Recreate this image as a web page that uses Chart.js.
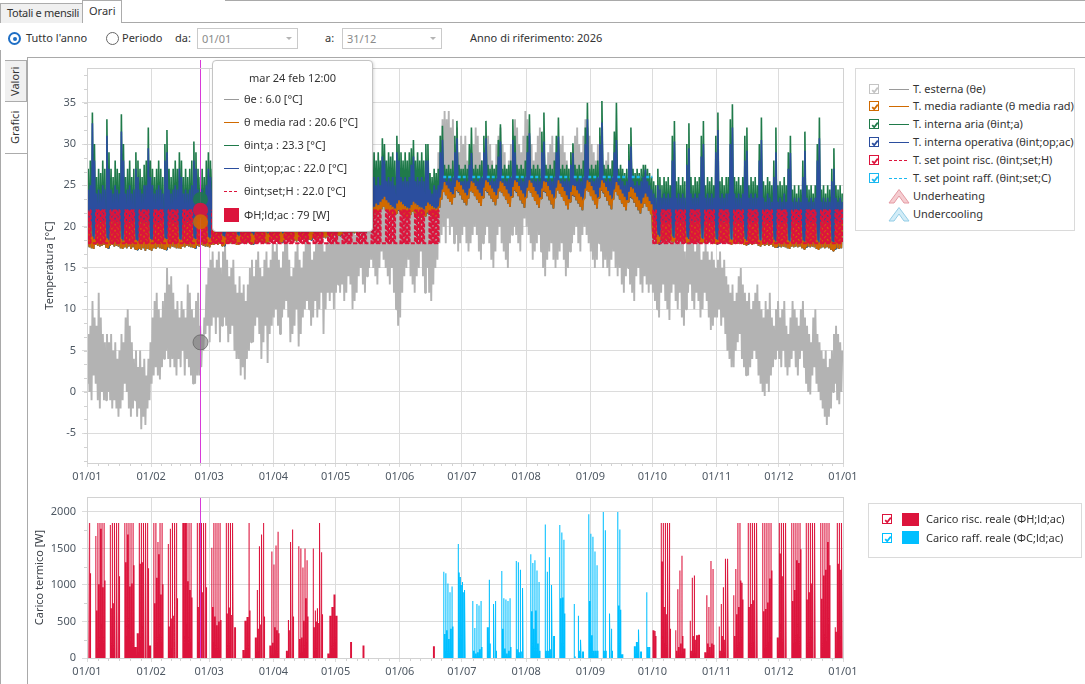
<!DOCTYPE html>
<html lang="it">
<head>
<meta charset="utf-8">
<title>Orari</title>
<script src="https://cdn.jsdelivr.net/npm/chart.js@4.4.1/dist/chart.umd.min.js"></script>
<style>
  html, body { margin: 0; padding: 0; }
  body { width: 1085px; height: 684px; position: relative; overflow: hidden; background: #fff;
         font-family: "Noto Sans", sans-serif; font-size: 11px; color: #333; }
  .a { position: absolute; white-space: nowrap; }
  .ln { position: absolute; background: #a9a9a9; }
  .tab { position: absolute; box-sizing: border-box; border: 1px solid #acacac; line-height: 18px; padding-left: 6px; white-space: nowrap; overflow: hidden; }
  .radio { position: absolute; width: 13px; height: 13px; box-sizing: border-box; border-radius: 50%; border: 1px solid #666; background: #fff; }
  .radio.on { border: 2px solid #1f6fc5; }
  .radio.on::after { content: ""; position: absolute; left: 2.5px; top: 2.5px; width: 4px; height: 4px; border-radius: 50%; background: #1f6fc5; }
  .combo { position: absolute; box-sizing: border-box; height: 21px; border: 1px solid #cacaca; color: #8a8a8a; padding-left: 4px; line-height: 19px; }
  .combo::after { content: ""; position: absolute; right: 5px; top: 8px; border: 3px solid transparent; border-top: 3px solid #b4b4b4; }
  .vtab { position: absolute; box-sizing: border-box; border: 1px solid #acacac; border-right: none;
          writing-mode: vertical-rl; transform: rotate(180deg); text-align: center; line-height: 20px; }
  canvas { position: absolute; }
  .legend { position: absolute; box-sizing: border-box; border: 1px solid #dadada; background: #fff; }
  .chk { position: absolute; width: 10px; height: 10px; box-sizing: border-box; border: 1px solid; background: #fff; }
  .chk svg { position: absolute; left: 0; top: 0; }
  .tip { position: absolute; left: 212px; top: 60px; width: 161px; height: 172px; box-sizing: border-box;
         background: #fff; border: 1px solid #c4c4c4; border-radius: 4px; box-shadow: 1px 1px 3px rgba(0,0,0,0.15); }
</style>
</head>
<body>

<!-- Schede in alto -->
<div class="ln" style="left:225px;top:0;width:860px;height:1px"></div>
<div class="ln" style="left:0;top:22px;width:1085px;height:1px"></div>
<div class="tab" style="left:0;top:3px;width:83px;height:20px;background:#f0f0f0;border-bottom:none;letter-spacing:-0.3px">Totali e mensili</div>
<div class="tab" style="left:82px;top:0;width:40px;height:23px;background:#fff;border-bottom:none;line-height:20px">Orari</div>

<!-- Riga periodo -->
<div class="radio on" style="left:8px;top:32px"></div>
<div class="a" style="left:26px;top:30px;line-height:16px">Tutto l'anno</div>
<div class="radio" style="left:106px;top:32px"></div>
<div class="a" style="left:122px;top:30px;line-height:16px">Periodo</div>
<div class="a" style="left:175px;top:30px;line-height:16px">da:</div>
<div class="combo" style="left:197px;top:28px;width:101px">01/01</div>
<div class="a" style="left:325px;top:30px;line-height:16px">a:</div>
<div class="combo" style="left:342px;top:28px;width:100px">31/12</div>
<div class="a" style="left:470px;top:30px;line-height:16px">Anno di riferimento: 2026</div>

<!-- Pannello grafici -->
<div class="ln" style="left:0;top:50px;width:1px;height:634px"></div>
<div class="ln" style="left:27px;top:57px;width:1058px;height:1px"></div>
<div class="ln" style="left:27px;top:57px;width:1px;height:44px"></div>
<div class="ln" style="left:27px;top:154px;width:1px;height:530px"></div>
<div class="vtab" style="left:5px;top:60px;width:22px;height:42px;background:#f0f0f0">Valori</div>
<div class="vtab" style="left:5px;top:101px;width:23px;height:53px;background:#fff">Grafici</div>

<canvas id="tempChart" width="830" height="435" style="left:30px;top:58px"></canvas>
<canvas id="loadChart" width="830" height="194" style="left:30px;top:490px"></canvas>

<div class="legend" id="tempLegend" style="left:855px;top:68px;width:220px;height:163px"></div>
<div class="legend" id="loadLegend" style="left:868px;top:503px;width:214px;height:55px"></div>
<div class="tip" id="tip"></div>

<script>
// Asse x: giorni dell'anno 2026, inizio di ogni mese
const year = 2026;
const monthStart = [0, 31, 59, 90, 120, 151, 181, 212, 243, 273, 304, 334, 365];
const monthLabels = ["01/01", "01/02", "01/03", "01/04", "01/05", "01/06", "01/07",
  "01/08", "01/09", "01/10", "01/11", "01/12", "01/01"];
const tempTicks = [-5, 0, 5, 10, 15, 20, 25, 30, 35];
const loadTicks = [0, 500, 1000, 1500, 2000];

// Temperatura esterna: massimo e minimo giornaliero [°C], una riga per mese
const teMax = [
  7,8,11,9,8,12,9,7,6,7,6,7,5,6,4,5,7,6,9,10,8,6,4,5,3,5,3,4,2,4,6,
  9,11,12,10,9,11,12,15,13,14,12,10,11,9,11,10,9,13,12,10,9,11,12,8,7,9,13,15,
  16,17,15,16,17,15,17,18,16,14,15,16,13,12,14,12,13,11,13,15,16,14,16,17,15,14,16,17,15,16,18,
  17,18,16,15,17,19,18,16,14,15,17,18,16,15,17,19,20,18,16,17,19,18,20,19,17,18,20,19,21,20,
  20,21,19,22,21,20,22,23,21,19,22,24,23,21,20,23,25,26,27,24,22,25,27,26,24,23,25,26,24,22,23,
  24,25,27,26,28,27,25,24,26,27,28,26,25,27,23,22,24,26,29,31,33,34,33,34,32,33,30,32,29,31,
  30,31,28,27,29,30,32,31,29,28,27,29,31,30,28,27,30,31,32,30,29,27,28,30,31,33,32,30,29,31,34,
  33,31,30,28,29,31,32,30,28,27,29,30,31,29,27,28,30,31,29,28,27,29,30,31,32,30,29,31,33,32,31,
  30,29,28,30,31,29,27,28,29,27,28,30,28,26,27,25,24,26,27,25,24,23,25,26,24,23,25,24,22,23,
  22,21,20,19,21,22,20,19,18,20,21,19,18,20,19,17,18,19,20,18,17,19,18,16,17,18,17,16,17,16,15,
  16,17,15,16,14,13,12,13,11,12,14,15,13,12,11,12,10,11,12,13,11,10,9,11,10,12,9,8,10,11,
  9,10,11,8,7,9,11,10,9,8,10,11,9,8,7,6,9,10,7,6,5,4,5,3,4,5,7,8,7,6,5
];
const teMin = [
  1,0,-1,2,1,-1,-2,0,-1,-1,0,-1,-2,-1,-2,-3,-2,-1,1,0,-2,-3,-2,-1,-3,-2,-4.5,-3,-4,-2,-1,
  1,2,3,2,1.5,3,4,5,4,3,4,3,2,4,3,5,2,4,3,2,1,1,2,2,3,5,7,8,
  6,8,9,7,9,6,8,9,8,6,7,8,5,4,4,2,3,1.5,4,5,6,6,8,9,7,4,6,8,3.5,7,8,
  9,10,8,7,9,10,11,9,6,7,8,10,5.5,7,9,10,11,10,8,9,11,9,10,12,7,10,12,11,12,10,
  12,13,12,13,11,12,14,13,10,11,12,14,15,13,12,14,15,16,15,14,13,15,17,16,15,14,13,15,12,10,8,
  9,12,14,15,16,14,13,12,14,15,17,14,12,15,12,11,13,15,16,18,19,20,18,21,19,20,18,19,17,18,
  19,20,18,17,18,19,20,19,17,16,18,19,20,18,16,15,17,19,20,18,17,16,15,18,19,20,19,18,17,19,21,
  20,19,18,16,17,18,19,17,15,14,16,17,18,16,15,16,17,18,16,14,15,17,18,19,20,18,17,19,20,19,18,
  17,16,15,16,18,17,15,16,15,14,16,17,15,14,15,13,12,14,15,13,12,11,14,15,13,12,14,13,12,13,
  12,11,10,9,12,13,11,10,8.7,12,13,11,10,12,9,8,10,12,13,11,10,12,11,9,10,12,11,9,7.5,8,9,
  9,10,8,9,7,5,4,3,3,5,6,7,4,3,2,2,3,4,5,4,2,1,0,-0.5,1,0,2,3,4,5,
  4,3,5,3,2,3,4,5,3,2,4,5,3,1,0,-0.3,2,3,1,0,-1,-2,-3,-4,-3,-2,0,1,-1,-1.5,0
];

// Temperature interne: massimo giornaliero [°C], una riga per settimana (da lunedi)
const airMax = [
  27,28,33.8,30,
  26,27,26.5,28,27,33,29, 27,26,28,27,26.5,33.6,30, 26,27,28,26,27,29,28, 27,26,27.5,28,32,28,27,
  26,27,28,27,26,30,31.7, 27,26,27,28,27,29,28, 26,27,26,27,28,30.3,29, 27,26,27,26,28,29,28,
  27,26,28,27,28,31,30, 26,27,28,27,26,30,29, 27,28,27,28,29,31,30, 27,28,28,29,28,32,31,
  28,27,28,29,28,31,32, 28,29,28,27,28,31,30, 28,29,28,29,28,32,31, 28,28,29,28,29,31,32,
  28,29,28,29,28,32,31, 28,29,29,28,29,31,32, 29,28,29,28,29,32,31, 28,29,28,29,28,30.7,30,
  28,29,28.5,29,28,31,30, 29,28,29,28,29,29.5,30.5, 28,29,28,29,28,30,30, 26.5,26,27,26.5,27,31,32.2,
  27.5,27,27.5,27,28,31,32.8, 27.5,27,27,27.5,27,30,32, 27,27.5,27,27.5,28,31,32.8, 27.5,27,27.5,27,27.5,30.5,32.4,
  27,27.5,27,27.5,28,33,31, 27.5,27,27.5,27,28,31,33.6, 27,27.5,27,27.5,27,31.5,33.8, 27.5,27,27.5,27,28,31,33.2,
  27,27.5,27,27.5,27,29,30.1, 27.5,27,27.5,27,28,32,35, 27,27.5,27,27.5,28,32,35.2, 27.5,27,27.5,27,28,31.5,35,
  27,27.5,27,26.5,27,30,32, 27,26.5,27,26.5,27,27.5,27.5, 27,26.5,26,25.5,25,27,26, 25,26,25.5,26,25,31,32.8,
  25.5,26,25,26,25.5,30,32.5, 26,25,26,25.5,26,31,32.8, 25,26,25.5,26,25,31,33.8, 25.5,26,25,26,26,33,34.8,
  26,25.5,26,25,26,31,32, 25,26,25.5,26,25,30,33.2, 25.5,25,26,25.5,25,28,32, 25,25.5,25,26,25,29,31,
  24.5,25,24,25,24.5,28,31.5, 25,24.5,25,24,25,30,33.2, 24.5,25,24,25,24.5,27,29.5,
  25,24.5,25,24
];
const opMax = [
  24.5,25,32.5,28,
  24,24.5,24,25,24.5,31,27, 24.5,24,25,24.5,24,31.5,28, 24,24.5,25,24,24.5,27,26, 24.5,24,25,25,29.5,26,25,
  24,24.5,25,24.5,24,28,29, 24.5,24,24.5,25,24.5,27,26, 24,24.5,24,24.5,25,28,27, 24.5,24,24.5,24,25,27,26,
  24.5,24,25,24.5,25,29,28, 24,24.5,25,24.5,24,28,27, 24.5,25,24.5,25,26,29,28, 24.5,25,25,26,25,30,29,
  25,24.5,25,26,25,29,30, 25,26,25,24.5,25,29,28, 25,26,25,26,25,30,29, 25,25,26,25,26,29,30,
  25,26,25,26,25,30,29, 25,26,26,25,26,29,30, 26,25,26,25,26,30,29, 25,26,25,26,25,28.5,28,
  25.5,26,25.5,26,25,29,28, 26,25.5,26,25.5,26,27.5,28.5, 25.5,26,25.5,26,25.5,28,28, 24.5,24,25,24.5,25,29,30.5,
  26,25.5,26,25.5,26,29,30.7, 25.8,25.5,25.5,25.8,25.5,27.5,28.9, 25.5,25.8,25.5,25.8,26,29,30.7, 25.8,25.5,25.8,25.5,25.8,28.5,30.3,
  25.5,25.8,25.5,25.8,26,30.5,29, 25.8,25.5,25.8,25.5,26,29,31.3, 25.5,25.8,25.5,25.8,25.5,29,30.3, 25.8,25.5,25.8,25.5,26,29,30.9,
  25.5,25.8,25.5,25.8,25.5,27.5,28.9, 25.8,25.5,25.8,25.5,26,30,33, 25.5,25.8,25.5,25.8,26,30,32.6, 25.8,25.5,25.8,25.5,26,29,30.5,
  25.5,25.8,25.5,25,25.5,28,29.7, 25.5,25,25.5,25,25.5,26,26.9, 25.5,25,24.5,24,23.5,25,24.5, 23.5,24,23.5,24,23.5,28,30.3,
  23.5,24,23.5,24,23.5,27.5,29.5, 24,23.5,24,23.5,24,28.5,30, 23.5,24,23.5,24,23.5,29,31.7, 23.5,24,23.5,24,24,30,32,
  24,23.5,24,23.5,24,28,29.2, 23.5,24,23.5,24,23.5,28,30.5, 23.5,23,24,23.5,23,26,29, 23,23.5,23,24,23,27,28.9,
  23,23.5,23,23.5,23,26,29.2, 23.5,23,23.5,23,23.5,28,30.7, 23,23.5,23,23.5,23,25.5,27,
  23.5,23,23.5,23
];
const radMax = [
  20.5,20.6,18.8,18.5,
  20.6,20.5,20.6,20.7,20.6,18.6,18.4, 20.6,20.7,20.5,20.6,20.6,18.5,18.3, 20.5,20.6,20.6,20.5,20.6,18.4,18.3, 20.6,20.5,20.6,20.6,20.5,18.5,18.4,
  20.6,20.6,20.5,20.6,20.6,18.6,18.5, 20.5,20.6,20.6,20.5,20.6,18.5,18.4, 20.6,20.5,20.6,20.6,20.5,18.6,18.5, 20.6,20.6,20.5,20.6,20.6,18.7,18.6,
  20.6,20.7,20.6,20.6,20.7,18.9,18.8, 20.7,20.6,20.7,20.6,20.7,19,18.9, 20.7,20.8,20.7,20.8,20.7,19.2,19, 20.8,20.7,20.8,20.8,20.9,19.3,19.2,
  20.8,21,21,20.8,21,19.5,19.2, 20.9,21,21.1,20.9,21,19.6,19.4, 21,21.1,21,21.2,21.1,19.8,19.6, 21.1,21.2,21.1,21.3,21.2,20,19.9,
  21.2,21.3,21.2,21.4,21.3,20.3,20.1, 21.2,21.4,21.3,21.5,21.4,20.5,20.3, 21.8,22,21.9,22.1,22,21.5,21.8, 22.5,22.4,22.8,22.6,23,23.3,23.6,
  23.2,22.9,22.6,22.4,22.2,22.8,23.2, 23,22.7,22.5,22.3,22.2,22.6,23, 22.8,22.6,22.4,22.3,22.1,22.5,22.9, 22.7,22.5,22.3,22.2,22.4,23.5,24.5,
  25.4,25,24.6,24.2,23.9,24.8,25.6, 25.4,25,24.5,24.1,23.8,24.6,25.5, 25.3,24.9,24.5,24.1,23.7,24.7,25.6, 25.4,25,24.6,24.2,23.8,24.6,25.5,
  25.3,24.9,24.5,24,23.6,24.8,25.6, 25.4,24.9,24.4,24,23.5,24.7,25.6, 25.3,24.8,24.3,23.9,23.5,24.6,25.5, 25.4,24.9,24.4,23.9,23.4,24.7,25.6,
  25.2,24.8,24.3,23.8,23.3,24.2,25, 24.9,24.4,24,23.6,23.2,24.6,25.6, 25.4,24.9,24.4,23.9,23.4,24.7,25.6, 25.3,24.8,24.3,23.8,23.3,24.5,25.4,
  25,24.5,24,23.6,23.2,24.2,24.8, 24.6,24.1,23.6,23.2,22.8,23.5,24, 23.6,23.1,22.7,20.8,20.6,19,18.8, 20.6,20.6,20.5,20.6,20.6,18.8,18.6,
  20.6,20.5,20.6,20.6,20.5,18.7,18.5, 20.5,20.6,20.6,20.5,20.6,18.6,18.5, 20.6,20.6,20.5,20.6,20.6,18.5,18.4, 20.6,20.5,20.6,20.6,20.5,18.5,18.4,
  20.5,20.6,20.6,20.5,20.6,18.5,18.3, 20.6,20.6,20.5,20.6,20.6,18.4,18.3, 20.6,20.5,20.6,20.5,20.6,18.4,18.2, 20.5,20.6,20.5,20.6,20.5,18.3,18.2,
  20.6,20.5,20.6,20.5,20.6,18.3,18.2, 20.5,20.6,20.5,20.6,20.5,18.3,18.1, 20.6,20.5,20.6,20.5,20.6,18.2,18.1,
  20.5,20.6,20.5,20.6
];
// minimo notturno delle temperature interne [°C]
const intMin = [
  17.6,17.5,17.4,17.3,
  17.8,17.7,17.6,17.7,17.8,17.5,17.4, 17.7,17.8,17.6,17.7,17.6,17.4,17.3, 17.5,17.4,17.6,17.3,17.5,17.3,17.2, 17.3,17.2,17.4,17.1,17.3,17.2,17.1,
  17.4,17.3,17.5,17.4,17.3,17.3,17.2, 17.5,17.4,17.6,17.5,17.4,17.4,17.3, 17.6,17.5,17.7,17.6,17.5,17.5,17.4, 17.7,17.6,17.8,17.7,17.6,17.6,17.5,
  17.8,17.8,17.9,17.8,17.9,17.7,17.7, 17.9,17.9,18,17.9,18,17.8,17.8, 18,18,18.1,18,18.1,17.9,17.9, 18.1,18,18.2,18.1,18.2,18,18,
  18.2,18.3,18.4,18.2,18.3,18.2,18.1, 18.3,18.4,18.5,18.3,18.4,18.3,18.2, 18.4,18.5,18.4,18.6,18.5,18.5,18.4, 18.6,18.7,18.6,18.8,18.7,18.7,18.6,
  18.8,18.9,18.8,19,18.9,19,18.9, 19,19.2,19.1,19.3,19.2,19.3,19.2, 19.8,20,19.9,20.1,20,20.3,20.6, 21.3,21.2,21.6,21.4,21.8,22.1,22.4,
  22,21.7,21.4,21.2,21,21.6,22, 21.8,21.5,21.3,21.1,21,21.4,21.8, 21.6,21.4,21.2,21.1,20.9,21.3,21.7, 21.5,21.3,21.1,21,21.2,22.3,23.3,
  24.2,23.8,23.4,23,22.7,23.6,24.4, 24.2,23.8,23.3,22.9,22.6,23.4,24.3, 24.1,23.7,23.3,22.9,22.5,23.5,24.4, 24.2,23.8,23.4,23,22.6,23.4,24.3,
  24.1,23.7,23.3,22.8,22.4,23.6,24.4, 24.2,23.7,23.2,22.8,22.3,23.5,24.4, 24.1,23.6,23.1,22.7,22.3,23.4,24.3, 24.2,23.7,23.2,22.7,22.2,23.5,24.4,
  24,23.6,23.1,22.6,22.1,23,23.8, 23.7,23.2,22.8,22.4,22,23.4,24.4, 24.2,23.7,23.2,22.7,22.2,23.5,24.4, 24.1,23.6,23.1,22.6,22.1,23.3,24.2,
  23.8,23.3,22.8,22.4,22,23,23.6, 23.4,22.9,22.4,22,21.6,22.3,22.8, 22.4,21.9,21.5,18.6,18.4,18,17.9, 18.4,18.4,18.3,18.4,18.4,18.2,18.1,
  18.3,18.3,18.4,18.3,18.2,18.1,18, 18.2,18.3,18.2,18.2,18.3,18,18, 18.1,18.2,18.1,18.2,18.1,17.9,17.9, 18,18.1,18,18.1,18,17.9,17.8,
  18,18,17.9,18,18,17.8,17.8, 17.9,17.9,17.8,17.9,17.9,17.7,17.6, 17.8,17.7,17.8,17.7,17.8,17.6,17.5, 17.5,17.6,17.5,17.6,17.5,17.4,17.3,
  17.6,17.5,17.6,17.5,17.6,17.4,17.3, 17.5,17.6,17.5,17.6,17.5,17.3,17.2, 17.4,17.5,17.4,17.5,17.4,17.2,17.1,
  17.3,17.4,17.3,17.4
];

// Set point [°C] e stagioni (giorni dell'anno)
const setHNight = 18, setHDay = 22, setCDay = 26;
const heatSeason = [[0, 170], [273, 365]];
const coolSeason = [[172, 273]];
const workDays = [1, 2, 3, 4, 5];

// Carico termico [W]: punta di avviamento e carico del resto del giorno, righe settimanali
const heatPeak1 = [ // dal giorno 0
  1850,1850,0,0,
  1670,1850,1850,1850,1850,0,0, 1820,1850,1850,1850,1850,0,0, 1850,1850,1850,1850,1850,150,340, 1850,1850,1850,1850,1850,170,0,
  1850,1850,1590,1850,1850,0,0, 1560,1770,1850,1850,1850,0,0, 1850,1850,1850,1850,1850,0,0, 1850,1850,1850,1850,1850,0,0,
  1510,1850,1850,1850,1850,0,0, 1850,1850,1850,1850,420,0,0, 0,110,510,560,1850,0,0, 280,930,1530,1690,1850,0,0,
  170,1460,1280,1540,1730,0,0, 0,100,520,1590,1760,0,0, 1530,1500,1240,1500,1340,0,0, 1500,650,680,1850,1450,0,0,
  60,580,700,870,580,0,0, 0,0,0,0,220,0,0, 0,0,0,170,0,0,0, 0,0,0,0,0,0,0,
  0,0,0,0,0,0,0, 0,0,0,0,0,0,0, 0,0,0,0,0,0,0, 0,0,160,0,0,0,0
];
const heatBody1 = [
  1170,1160,0,0,
  650,1010,1770,970,1060,0,0, 680,750,910,1000,1120,0,0, 1310,1690,980,1020,1270,150,340, 1290,1310,1380,1330,1230,170,0,
  750,1100,1420,870,1010,0,0, 430,540,580,600,820,0,0, 1850,1850,1050,930,830,0,0, 700,930,900,800,970,0,0,
  700,570,450,500,520,0,0, 610,690,590,530,420,0,0, 0,110,510,560,650,0,0, 280,400,460,520,570,0,0,
  170,210,420,380,340,0,0, 0,100,380,520,570,0,0, 260,280,510,820,570,0,0, 420,500,480,520,600,0,0,
  60,580,700,870,580,0,0, 0,0,0,0,220,0,0, 0,0,0,170,0,0,0, 0,0,0,0,0,0,0,
  0,0,0,0,0,0,0, 0,0,0,0,0,0,0, 0,0,0,0,0,0,0, 0,0,160,0,0,0,0
];
const heat2From = 270;
const heatPeak2 = [
  0,0,0,380,370,0,0, 1850,1850,1850,1850,1850,0,0, 380,940,1200,1400,130,0,0, 510,1100,1130,310,320,0,0,
  80,860,700,1330,1220,0,0, 430,740,970,1360,1360,0,0, 860,1220,1850,1850,1030,0,0, 1850,1850,1850,1850,1850,0,0,
  1850,1850,1850,1850,1850,0,0, 280,1850,1850,1850,1850,0,0, 1850,1850,1850,1850,1850,0,0, 1850,1850,1850,1850,1850,0,0,
  1850,1850,1850,1850,1850,0,0, 420,1850,1850,1850
];
const heatBody2 = [
  0,0,0,380,300,0,0, 1320,700,600,560,400,0,0, 100,150,200,300,130,0,0, 100,300,250,310,320,0,0,
  80,200,150,200,180,0,0, 100,300,250,600,550,0,0, 300,600,700,1060,800,0,0, 700,740,790,960,960,0,0,
  640,670,760,1090,1200,0,0, 280,1430,1120,1050,1480,0,0, 780,930,1340,1300,1490,0,0, 800,900,1020,940,1320,0,0,
  810,1130,1210,1590,1270,0,0, 360,1290,1210,1450
];
const coolFrom = 172;
const coolPeak = [
  1180,1160,1020,900,980,0,0, 1560,1110,1040,930,0,0,0, 780,410,740,720,780,0,0, 420,1070,0,740,780,0,0,
  1190,820,800,780,820,0,0, 1330,1310,1210,960,0,0,0, 1420,1300,1340,1200,1040,0,0, 1830,1180,1380,1000,300,0,0,
  1820,1720,1620,0,0,0,0, 740,0,580,250,90,0,0, 1970,1700,1660,1460,1270,0,0, 2000,1750,0,610,400,0,0,
  2000,1760,50,0,0,0,0, 0,160,220,390,90,0,0, 900,150,0,0,0,0,0
];
const coolBody = [
  330,380,260,400,430,0,0, 1170,1000,900,800,0,0,0, 100,60,80,120,150,0,0, 420,200,0,100,100,0,0,
  400,130,60,100,150,0,0, 120,80,90,100,0,0,0, 640,400,650,200,100,0,0, 100,100,120,100,300,0,0,
  820,830,610,0,0,0,0, 20,0,100,100,90,0,0, 780,310,100,100,100,0,0, 100,100,0,100,100,0,0,
  720,660,50,0,0,0,0, 0,160,220,100,90,0,0, 150,150,0,0,0,0,0
];

// Valori letti al cursore (mar 24 feb 12:00)
const hoverDay = 54.5;
const tipTitle = "mar 24 feb 12:00";
const tipNames = ["θe", "θ media rad", "θint;a", "θint;op;ac", "θint;set;H", "ΦH;ld;ac"];
const tipValues = [6.0, 20.6, 23.3, 22.0, 22.0, 79];

// Colori
const C = { te: "#b3b3b3", rad: "#d06a00", air: "#1f7a4a", op: "#2b4e9e", setH: "#dc143c",
            setC: "#1ab8f0", heat: "#dc143c", cool: "#00bfff", cursor: "#d83ad8" };

// ---- Costruzione serie ----
const inSeason = (s, d) => s.some(([a, b]) => d >= a && d < b);
const isWork = d => workDays.includes(new Date(year, 0, 1 + d).getDay());

function zigzag(lo, hi, tLo, tHi) {
  const pts = [];
  for (let d = 0; d < hi.length; d++) {
    pts.push({ x: d + tLo, y: lo[d] }, { x: d + tHi, y: hi[d] });
  }
  return pts;
}

function setpointHeat() {
  const pts = [];
  for (let d = 0; d < 365; d++) {
    if (!inSeason(heatSeason, d)) { pts.push({ x: d + 0.5, y: null }); continue; }
    pts.push({ x: d, y: setHNight });
    if (isWork(d)) {
      pts.push({ x: d + 0.33, y: setHNight }, { x: d + 0.33, y: setHDay },
               { x: d + 0.75, y: setHDay }, { x: d + 0.75, y: setHNight });
    }
    pts.push({ x: d + 1, y: setHNight });
  }
  return pts;
}

function setpointCool() {
  const pts = [];
  for (let d = 0; d < 365; d++) {
    if (inSeason(coolSeason, d) && isWork(d)) pts.push({ x: d, y: setCDay }, { x: d + 1, y: setCDay });
    else pts.push({ x: d + 0.5, y: null });
  }
  return pts;
}

function addLoad(pts, peak, body, from) {
  peak.forEach((p, i) => {
    if (!p) return;
    const d = from + i, b = body[i];
    pts.push({ x: d + 0.02, y: 0 }, { x: d + 0.02, y: p });
    if (b >= p) {
      pts.push({ x: d + 0.96, y: p });
    } else {
      pts.push({ x: d + 0.52, y: p }, { x: d + 0.52, y: b }, { x: d + 0.96, y: b });
    }
    pts.push({ x: d + 0.96, y: 0 });
  });
}

const heatPts = [{ x: 0, y: 0 }];
addLoad(heatPts, heatPeak1, heatBody1, 0);
addLoad(heatPts, heatPeak2, heatBody2, heat2From);
heatPts.push({ x: 365, y: 0 });
const coolPts = [{ x: 0, y: 0 }];
addLoad(coolPts, coolPeak, coolBody, coolFrom);
coolPts.push({ x: 365, y: 0 });

// ---- Plugin: cornice, tacche secondarie, cursore ----
const frame = {
  id: "frame",
  afterDraw(chart, args, opts) {
    const { ctx, chartArea: a, scales: { x, y } } = chart;
    ctx.save();
    ctx.strokeStyle = "#d2d2d2";
    ctx.lineWidth = 1;
    ctx.strokeRect(Math.round(a.left) + 0.5, Math.round(a.top) + 0.5,
                   Math.round(a.right - a.left), Math.round(a.bottom - a.top));
    ctx.beginPath();
    for (let m = 0; m < 12; m++) {
      const s = monthStart[m], len = monthStart[m + 1] - s;
      for (let k = 1; k < 6; k++) {
        const px = Math.round(x.getPixelForValue(s + len * k / 6)) + 0.5;
        ctx.moveTo(px, a.bottom); ctx.lineTo(px, a.bottom + 3);
      }
    }
    for (let v = opts.minorFrom; v < y.max; v += opts.minorStep) {
      if (v < y.min) continue;
      const py = Math.round(y.getPixelForValue(v)) + 0.5;
      ctx.moveTo(a.left - 3, py); ctx.lineTo(a.left, py);
    }
    ctx.stroke();
    ctx.restore();
  }
};

const cursor = {
  id: "cursor",
  afterDatasetsDraw(chart, args, opts) {
    const { ctx, chartArea: a, scales: { x, y } } = chart;
    const px = Math.round(x.getPixelForValue(hoverDay)) + 0.5;
    ctx.save();
    ctx.strokeStyle = C.cursor;
    ctx.lineWidth = 1;
    ctx.beginPath(); ctx.moveTo(px, opts.top); ctx.lineTo(px, a.bottom); ctx.stroke();
    (opts.dots || []).forEach(([v, fill, stroke]) => {
      ctx.beginPath();
      ctx.arc(px, y.getPixelForValue(v), 7.5, 0, Math.PI * 2);
      ctx.fillStyle = fill; ctx.fill();
      if (stroke) { ctx.strokeStyle = stroke; ctx.stroke(); }
    });
    ctx.restore();
  }
};

// ---- Opzioni comuni ----
Chart.defaults.font.family = '"Noto Sans", sans-serif';
Chart.defaults.font.size = 11;
const tickColor = "#4e5863";
const gridColor = "#dcdcdc";

function xScale(h) {
  return {
    type: "linear", min: 0, max: 365,
    afterBuildTicks: s => { s.ticks = monthStart.map(v => ({ value: v })); },
    afterFit: s => { s.height = h; s.paddingLeft = 0; s.paddingRight = 0; },
    ticks: { autoSkip: false, maxRotation: 0, color: tickColor, padding: 3,
             callback: (v, i) => monthLabels[i] },
    grid: { color: gridColor, tickLength: 4 },
    border: { color: "#cfcfcf" }
  };
}
function yScale(min, max, ticks, title, titlePad) {
  return {
    type: "linear", min, max,
    afterBuildTicks: s => { s.ticks = ticks.map(v => ({ value: v })); },
    afterFit: s => { s.width = 57; s.paddingTop = 0; s.paddingBottom = 0; },
    ticks: { color: tickColor, padding: 6, callback: v => String(v) },
    grid: { color: gridColor, tickLength: 5 },
    border: { color: "#cfcfcf" },
    title: { display: true, text: title, color: "#3a3f46", font: { size: 11 }, padding: { top: titlePad, bottom: 0 } }
  };
}
const base = {
  responsive: false, animation: false, events: [], devicePixelRatio: 1,
  parsing: false, normalized: true,
  plugins: { legend: { display: false }, tooltip: { enabled: false } },
  elements: { point: { radius: 0 }, line: { tension: 0, borderJoinStyle: "bevel", borderCapStyle: "butt" } }
};

// ---- Grafico temperature ----
new Chart(document.getElementById("tempChart"), {
  type: "line",
  data: {
    datasets: [
      { label: "T. set point risc. (θint;set;H)", data: setpointHeat(), borderColor: C.setH, borderWidth: 2, borderDash: [4, 2], spanGaps: false },
      { label: "T. set point raff. (θint;set;C)", data: setpointCool(), borderColor: C.setC, borderWidth: 2.5, borderDash: [3, 2], spanGaps: false },
      { label: "T. media radiante", data: zigzag(intMin, radMax, 0.2, 0.65), borderColor: C.rad, borderWidth: 1.6 },
      { label: "T. interna operativa", data: zigzag(intMin, opMax, 0.2, 0.6), borderColor: C.op, borderWidth: 1.6 },
      { label: "T. interna aria", data: zigzag(intMin, airMax, 0.2, 0.6), borderColor: C.air, borderWidth: 1.6 },
      { label: "T. esterna", data: zigzag(teMin, teMax, 0.2, 0.65), borderColor: C.te, borderWidth: 1.9 }
    ]
  },
  options: {
    ...base,
    layout: { padding: { left: 0, right: 17, top: 10, bottom: 0 } },
    scales: { x: xScale(30), y: yScale(-8.6, 39.2, tempTicks, "Temperatura [°C]", 13) },
    plugins: {
      ...base.plugins,
      frame: { minorFrom: -5 - 10 / 3, minorStep: 5 / 3 },
      cursor: { top: 2, dots: [
        [tipValues[2], "rgba(31,122,74,0.85)"],
        [tipValues[3], "rgba(43,78,158,0.85)"],
        [tipValues[4], "rgba(220,20,60,0.9)"],
        [tipValues[1], "rgba(208,106,0,0.85)"],
        [tipValues[0], "rgba(125,125,125,0.6)", "rgba(95,95,95,0.7)"]
      ] }
    }
  },
  plugins: [frame, cursor]
});

// ---- Grafico carichi ----
new Chart(document.getElementById("loadChart"), {
  type: "line",
  data: {
    datasets: [
      { label: "Carico risc. reale (ΦH;ld;ac)", data: heatPts, borderWidth: 0, borderColor: C.heat, backgroundColor: C.heat, fill: "origin" },
      { label: "Carico raff. reale (ΦC;ld;ac)", data: coolPts, borderWidth: 0, borderColor: C.cool, backgroundColor: C.cool, fill: "origin" }
    ]
  },
  options: {
    ...base,
    layout: { padding: { left: 0, right: 17, top: 7, bottom: 0 } },
    scales: { x: xScale(26), y: yScale(0, 2205, loadTicks, "Carico termico [W]", 3) },
    plugins: {
      ...base.plugins,
      frame: { minorFrom: 250, minorStep: 500 },
      cursor: { top: 7 }
    }
  },
  plugins: [frame, cursor]
});

// ---- Legende ----
const check = c => '<svg width="10" height="10"><path d="M2.2 5.2 L4.2 7.2 L7.8 2.6" fill="none" stroke="' + c + '" stroke-width="1.8"/></svg>';
const sample = (w, c, dash) => '<svg width="' + w + '" height="3"><line x1="0" y1="1.5" x2="' + w + '" y2="1.5" stroke="' + c +
  '" stroke-width="1"' + (dash ? ' stroke-dasharray="3 2"' : '') + '/></svg>';
const tempItems = [
  ["T. esterna (θe)", "#c4c4c4", "#9a9a9a", false],
  ["T. media radiante (θ media rad)", C.rad, C.rad, false],
  ["T. interna aria (θint;a)", C.air, C.air, false],
  ["T. interna operativa (θint;op;ac)", C.op, C.op, false],
  ["T. set point risc. (θint;set;H)", C.setH, C.setH, true],
  ["T. set point raff. (θint;set;C)", C.setC, C.setC, true]
];
const warnItems = [["Underheating", "#f5cdd1", "#e49aa3"], ["Undercooling", "#d2ecf7", "#93cde6"]];
let html = "";
tempItems.forEach(([text, box, line, dash], i) => {
  const cy = 19.5 + 17.9 * i;
  html += '<div class="chk" style="left:13px;top:' + (cy - 5) + 'px;border-color:' + box + '">' + check(box) + '</div>';
  html += '<div class="a" style="left:33px;top:' + (cy - 2) + 'px;line-height:0">' + sample(20, line, dash) + '</div>';
  html += '<div class="a" style="left:57px;top:' + (cy - 8) + 'px;line-height:16px">' + text + '</div>';
});
warnItems.forEach(([text, fill, stroke], i) => {
  const cy = 19.5 + 17.9 * (i + 6);
  html += '<svg class="a" style="left:32px;top:' + (cy - 8) + 'px" width="22" height="16"><path d="M1 15 L11 1.5 L21 15 L16 15 L11 8 L6 15 Z" fill="' + fill + '" stroke="' + stroke + '" stroke-width="1"/></svg>';
  html += '<div class="a" style="left:57px;top:' + (cy - 8) + 'px;line-height:16px">' + text + '</div>';
});
document.getElementById("tempLegend").innerHTML = html;

const loadItems = [["Carico risc. reale (ΦH;ld;ac)", C.heat], ["Carico raff. reale (ΦC;ld;ac)", C.cool]];
html = "";
loadItems.forEach(([text, c], i) => {
  const cy = 15 + 18.5 * i;
  html += '<div class="chk" style="left:13px;top:' + (cy - 5) + 'px;border-color:' + c + '">' + check(c) + '</div>';
  html += '<div class="a" style="left:33px;top:' + (cy - 6.5) + 'px;width:17px;height:13px;background:' + c + '"></div>';
  html += '<div class="a" style="left:57px;top:' + (cy - 8) + 'px;line-height:16px">' + text + '</div>';
});
document.getElementById("loadLegend").innerHTML = html;

// ---- Tooltip al cursore ----
const tipLines = [["#9a9a9a", false], [C.rad, false], [C.air, false], [C.op, false], [C.setH, true]];
html = '<div class="a" style="left:0;width:159px;top:9px;text-align:center;line-height:16px">' + tipTitle + '</div>';
tipNames.forEach((name, i) => {
  const cy = 38 + 23.1 * i;
  const val = i < 5 ? tipValues[i].toFixed(1) + " [°C]" : tipValues[i] + " [W]";
  if (i < 5) html += '<div class="a" style="left:11px;top:' + (cy - 2) + 'px;line-height:0">' + sample(15, tipLines[i][0], tipLines[i][1]) + '</div>';
  else html += '<div class="a" style="left:11px;top:' + (cy - 7) + 'px;width:15px;height:14px;background:' + C.heat + '"></div>';
  html += '<div class="a" style="left:31px;top:' + (cy - 8) + 'px;line-height:16px">' + name + " : " + val + '</div>';
});
document.getElementById("tip").innerHTML = html;
</script>
</body>
</html>
